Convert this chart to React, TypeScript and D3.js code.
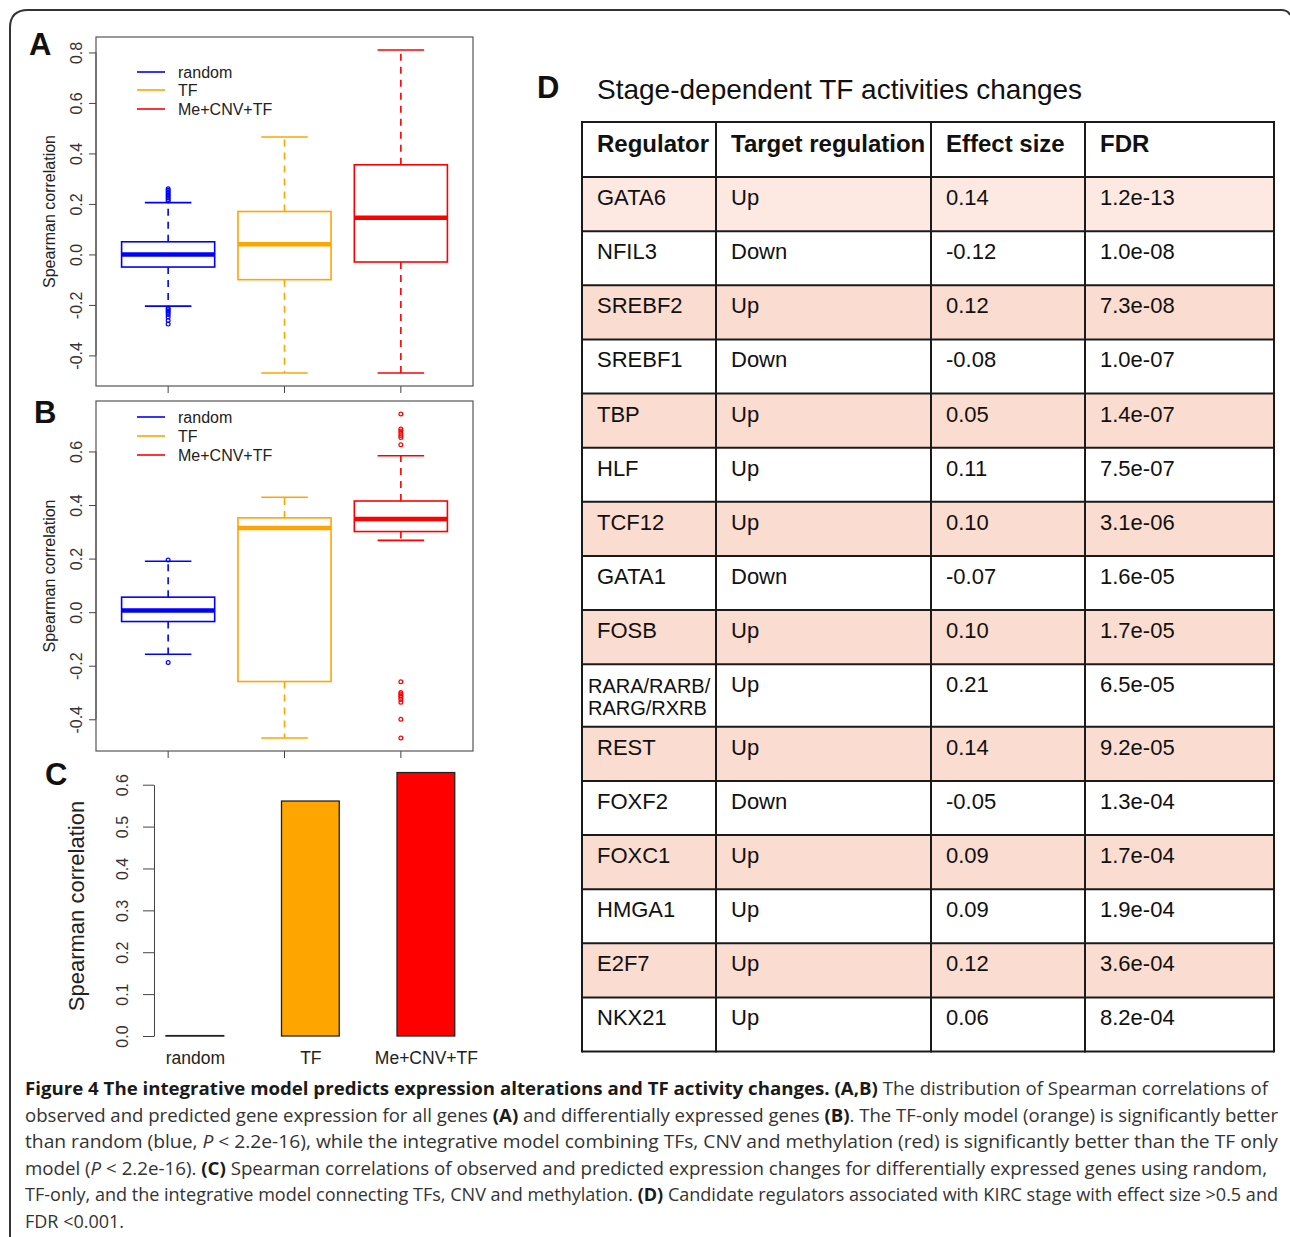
import React, { useEffect, useRef } from "react";
import * as d3 from "d3";

// groups shared by panels A, B and C
const groups = ["random", "TF", "Me+CNV+TF"];
const groupColors = ["#0000ff", "#ffa500", "#ff0000"];

// panel A: all genes (whisker low, Q1, median, Q3, whisker high)
const allLow = [-0.205, -0.47, -0.47];
const allQ1 = [-0.05, -0.1, -0.03];
const allMedian = [0.0, 0.04, 0.145];
const allQ3 = [0.05, 0.17, 0.355];
const allHigh = [0.205, 0.465, 0.81];
const allOutliers = [
  [0.212, 0.218, 0.224, 0.23, 0.236, 0.242, 0.248, 0.254, 0.26, -0.212, -0.218, -0.224, -0.23, -0.238, -0.248, -0.262, -0.276],
  [],
  [],
];

// panel B: differentially expressed genes
const degLow = [-0.157, -0.47, 0.268];
const degQ1 = [-0.035, -0.259, 0.301];
const degMedian = [0.006, 0.314, 0.348];
const degQ3 = [0.056, 0.352, 0.415];
const degHigh = [0.19, 0.429, 0.584];
const degOutliers = [
  [0.195, -0.188],
  [],
  [0.74, 0.684, 0.676, 0.668, 0.66, 0.652, 0.625, -0.26, -0.3, -0.306, -0.312, -0.318, -0.326, -0.336, -0.4, -0.47],
];

const yTicksA = [-0.4, -0.2, 0.0, 0.2, 0.4, 0.6, 0.8];
const yTicksB = [-0.4, -0.2, 0.0, 0.2, 0.4, 0.6];

// panel C: correlation of expression changes
const barValues = [0.001, 0.561, 0.629];
const yTicksC = [0.0, 0.1, 0.2, 0.3, 0.4, 0.5, 0.6];

// panel D table
const tableHeaders = ["Regulator", "Target regulation", "Effect size", "FDR"];
const regulators = ["GATA6", "NFIL3", "SREBF2", "SREBF1", "TBP", "HLF", "TCF12", "GATA1", "FOSB", "RARA/RARB/RARG/RXRB", "REST", "FOXF2", "FOXC1", "HMGA1", "E2F7", "NKX21"];
const regulations = ["Up", "Down", "Up", "Down", "Up", "Up", "Up", "Down", "Up", "Up", "Up", "Down", "Up", "Up", "Up", "Up"];
const effectSizes = ["0.14", "-0.12", "0.12", "-0.08", "0.05", "0.11", "0.10", "-0.07", "0.10", "0.21", "0.14", "-0.05", "0.09", "0.09", "0.12", "0.06"];
const fdrs = ["1.2e-13", "1.0e-08", "7.3e-08", "1.0e-07", "1.4e-07", "7.5e-07", "3.1e-06", "1.6e-05", "1.7e-05", "6.5e-05", "9.2e-05", "1.3e-04", "1.7e-04", "1.9e-04", "3.6e-04", "8.2e-04"];

// caption lines: [text, style] segments
const captionLines = [
  [["Figure 4 The integrative model predicts expression alterations and TF activity changes. (A,B)", "b"], [" The distribution of Spearman correlations of", ""]],
  [["observed and predicted gene expression for all genes ", ""], ["(A)", "b"], [" and differentially expressed genes ", ""], ["(B)", "b"], [". The TF-only model (orange) is significantly better", ""]],
  [["than random (blue, ", ""], ["P", "i"], [" < 2.2e-16), while the integrative model combining TFs, CNV and methylation (red) is significantly better than the TF only", ""]],
  [["model (", ""], ["P", "i"], [" < 2.2e-16). ", ""], ["(C)", "b"], [" Spearman correlations of observed and predicted expression changes for differentially expressed genes using random,", ""]],
  [["TF-only, and the integrative model connecting TFs, CNV and methylation. ", ""], ["(D)", "b"], [" Candidate regulators associated with KIRC stage with effect size >0.5 and", ""]],
  [["FDR <0.001.", ""]],
];
const captionWidths = [1243, 1253, 1253, 1242, 1253, 0];

const SANS = "'Liberation Sans', Arial, Helvetica, sans-serif";
const fmt = (d) => (+d).toFixed(1);

function drawBoxPanel(svg, top, bottom, low, q1, med, q3, high, outliers, ticks, legendY) {
  const left = 96, right = 473;
  const values = [...low, ...high, ...outliers.flat()];
  const [mn, mx] = d3.extent(values);
  const pad = (mx - mn) * 0.04;
  const y = d3.scaleLinear().domain([mn - pad, mx + pad]).range([bottom, top]);
  const x = d3.scaleBand().domain(groups).range([left, right]).paddingInner(0.2).paddingOuter(0.22);
  const bw = x.bandwidth();

  const g = svg.append("g");

  // y axis, R style
  const yAxis = g.append("g")
    .attr("transform", `translate(${left},0)`)
    .call(d3.axisLeft(y).tickValues(ticks).tickSize(7).tickSizeOuter(0).tickFormat(fmt));
  yAxis.select(".domain").remove();
  yAxis.append("line")
    .attr("y1", y(ticks[0])).attr("y2", y(ticks[ticks.length - 1]))
    .attr("stroke", "#444");
  yAxis.selectAll(".tick line").attr("stroke", "#444");
  yAxis.selectAll(".tick text")
    .attr("x", null).attr("dy", null)
    .attr("transform", "translate(-14,0) rotate(-90)")
    .attr("text-anchor", "middle")
    .attr("fill", "#333")
    .style("font-size", "16px")
    .style("font-family", SANS);

  // x axis ticks
  const xAxis = g.append("g")
    .attr("transform", `translate(0,${bottom})`)
    .call(d3.axisBottom(x).tickSize(7).tickSizeOuter(0).tickFormat(() => ""));
  xAxis.select(".domain").remove();
  xAxis.selectAll(".tick line").attr("stroke", "#444");

  g.append("text")
    .attr("transform", `translate(55,${(top + bottom) / 2}) rotate(-90)`)
    .attr("text-anchor", "middle")
    .style("font-size", "16px")
    .style("font-family", SANS)
    .attr("fill", "#222")
    .text("Spearman correlation");

  groups.forEach((grp, i) => {
    const cx = x(grp) + bw / 2;
    const c = groupColors[i];
    const bg = g.append("g").attr("stroke", c).attr("fill", "none");
    // whiskers
    bg.append("line").attr("x1", cx).attr("x2", cx).attr("y1", y(q3[i])).attr("y2", y(high[i]))
      .attr("stroke-width", 1.6).attr("stroke-dasharray", "7,6");
    bg.append("line").attr("x1", cx).attr("x2", cx).attr("y1", y(q1[i])).attr("y2", y(low[i]))
      .attr("stroke-width", 1.6).attr("stroke-dasharray", "7,6");
    [low[i], high[i]].forEach((v) => {
      bg.append("line").attr("x1", cx - bw / 4).attr("x2", cx + bw / 4).attr("y1", y(v)).attr("y2", y(v)).attr("stroke-width", 1.6);
    });
    bg.append("rect")
      .attr("x", x(grp)).attr("width", bw)
      .attr("y", y(q3[i])).attr("height", y(q1[i]) - y(q3[i]))
      .attr("fill", "#fff").attr("stroke-width", 1.6);
    bg.append("line").attr("x1", x(grp)).attr("x2", x(grp) + bw).attr("y1", y(med[i])).attr("y2", y(med[i])).attr("stroke-width", 4.5);
    bg.selectAll("circle").data(outliers[i]).enter().append("circle")
      .attr("cx", cx).attr("cy", (d) => y(d)).attr("r", 1.9).attr("stroke-width", 1.2);
  });

  // plot frame
  g.append("rect")
    .attr("x", left).attr("y", top).attr("width", right - left).attr("height", bottom - top)
    .attr("fill", "none").attr("stroke", "#555").attr("stroke-width", 1.2);

  // legend
  groups.forEach((grp, i) => {
    g.append("line").attr("x1", 137).attr("x2", 165).attr("y1", legendY[i]).attr("y2", legendY[i])
      .attr("stroke", groupColors[i]).attr("stroke-width", 1.6);
    g.append("text").attr("x", 178).attr("y", legendY[i] + 5.5)
      .style("font-size", "16px").style("font-family", SANS).attr("fill", "#222").text(grp);
  });
}

function drawBarPanel(svg) {
  const y = d3.scaleLinear().domain([0, 0.6]).range([1036, 784.7]);
  const x = d3.scaleBand().domain(groups).range([166, 454.75]).paddingInner(0.5).paddingOuter(0);
  const g = svg.append("g");

  const yAxis = g.append("g")
    .attr("transform", "translate(154,0)")
    .call(d3.axisLeft(y).tickValues(yTicksC).tickSize(11).tickSizeOuter(0).tickFormat(fmt));
  yAxis.select(".domain").attr("stroke", "#444");
  yAxis.selectAll(".tick line").attr("stroke", "#444");
  yAxis.selectAll(".tick text")
    .attr("x", null).attr("dy", null)
    .attr("transform", "translate(-26,0) rotate(-90)")
    .attr("text-anchor", "middle")
    .attr("fill", "#333")
    .style("font-size", "16px")
    .style("font-family", SANS);

  g.selectAll(".bar").data(barValues).enter().append("rect")
    .attr("x", (d, i) => x(groups[i]))
    .attr("width", x.bandwidth())
    .attr("y", (d) => y(d))
    .attr("height", (d) => Math.max(0.5, y(0) - y(d)))
    .attr("fill", (d, i) => groupColors[i])
    .attr("stroke", "#222")
    .attr("stroke-width", 1.3);

  g.selectAll(".xlab").data(groups).enter().append("text")
    .attr("x", (d) => x(d) + x.bandwidth() / 2 + 0.5)
    .attr("y", 1064)
    .attr("text-anchor", "middle")
    .style("font-size", "17.5px").style("font-family", SANS).attr("fill", "#222")
    .text((d) => d);

  g.append("text")
    .attr("transform", "translate(84,906) rotate(-90)")
    .attr("text-anchor", "middle")
    .style("font-size", "22px").style("font-family", SANS).attr("fill", "#222")
    .text("Spearman correlation");
}

function drawTable(svg) {
  const colX = [582, 716, 931, 1085, 1274];
  const top = 122, headH = 55, rowH = 54.13, wrapH = 62.6;
  const g = svg.append("g").style("font-family", SANS);

  g.append("text").attr("x", 537).attr("y", 98).style("font-size", "31px").style("font-weight", "bold").attr("fill", "#111").text("D");
  g.append("text").attr("x", 597).attr("y", 99).style("font-size", "28px").attr("fill", "#111").text("Stage-dependent TF activities changes");

  const rowTops = [];
  let yy = top + headH;
  regulators.forEach((r) => {
    rowTops.push(yy);
    yy += r.length > 10 ? wrapH : rowH;
  });
  const bottom = yy;

  regulators.forEach((r, i) => {
    const h = (i + 1 < rowTops.length ? rowTops[i + 1] : bottom) - rowTops[i];
    if (i % 2 === 0) {
      g.append("rect").attr("x", colX[0]).attr("y", rowTops[i]).attr("width", colX[4] - colX[0]).attr("height", h)
        .attr("fill", i === 0 ? "#fde9e1" : "#fbdcd0");
    }
    const cells = [r, regulations[i], effectSizes[i], fdrs[i]];
    cells.forEach((c, j) => {
      if (j === 0 && r.length > 10) {
        const cut = r.indexOf("/", r.indexOf("/") + 1) + 1;
        [r.slice(0, cut), r.slice(cut)].forEach((part, k) => {
          g.append("text").attr("x", colX[0] + 6).attr("y", rowTops[i] + 29 + k * 22)
            .style("font-size", "20px").attr("fill", "#111").text(part);
        });
      } else {
        g.append("text").attr("x", colX[j] + 15).attr("y", rowTops[i] + 28)
          .style("font-size", "22px").attr("fill", "#111").text(c);
      }
    });
  });

  tableHeaders.forEach((h, j) => {
    g.append("text").attr("x", colX[j] + 15).attr("y", top + 30)
      .style("font-size", "24px").style("font-weight", "bold").attr("fill", "#111").text(h);
  });

  // grid lines
  [top, top + headH, ...rowTops.slice(1), bottom].forEach((ly) => {
    g.append("line").attr("x1", colX[0]).attr("x2", colX[4]).attr("y1", ly).attr("y2", ly)
      .attr("stroke", "#1a1a1a").attr("stroke-width", 2);
  });
  colX.forEach((lx) => {
    g.append("line").attr("x1", lx).attr("x2", lx).attr("y1", top - 1).attr("y2", bottom + 1)
      .attr("stroke", "#1a1a1a").attr("stroke-width", 2);
  });
}

function drawCaption(svg) {
  const g = svg.append("g").style("font-family", "'Open Sans', 'Noto Sans', sans-serif").style("font-size", "18px");
  captionLines.forEach((line, i) => {
    const t = g.append("text").attr("x", 25).attr("y", 1095 + i * 26.6).attr("fill", "#333");
    if (captionWidths[i]) t.attr("textLength", captionWidths[i]).attr("lengthAdjust", "spacingAndGlyphs");
    line.forEach(([txt, st]) => {
      const sp = t.append("tspan").text(txt);
      if (st === "b") sp.style("font-weight", "bold").attr("fill", "#1a1a1a");
      if (st === "i") sp.style("font-style", "italic");
    });
  });
}

export default function App() {
  const svgRef = useRef(null);

  useEffect(() => {
    const svg = d3.select(svgRef.current);
    svg.selectAll("*").remove();

    svg.append("rect").attr("width", 1290).attr("height", 1237).attr("fill", "#fff");

    // outer frame with rounded corner
    svg.append("path")
      .attr("d", "M10,1237 V28 Q10,10 28,10 H1281 Q1288,10 1290,15")
      .attr("fill", "none").attr("stroke", "#333").attr("stroke-width", 2);

    drawBoxPanel(svg, 37, 386, allLow, allQ1, allMedian, allQ3, allHigh, allOutliers, yTicksA, [72, 90, 109]);
    drawBoxPanel(svg, 401, 751, degLow, degQ1, degMedian, degQ3, degHigh, degOutliers, yTicksB, [417, 436, 455]);
    drawBarPanel(svg);
    drawTable(svg);
    drawCaption(svg);

    // panel letters
    [["A", 29, 55], ["B", 34, 423], ["C", 45, 785]].forEach(([l, lx, ly]) => {
      svg.append("text").attr("x", lx).attr("y", ly)
        .style("font-family", SANS).style("font-size", "31px").style("font-weight", "bold").attr("fill", "#111").text(l);
    });
  }, []);

  return (
    <svg
      ref={svgRef}
      width={1290}
      height={1237}
      style={{ position: "absolute", left: 0, top: 0, display: "block" }}
    />
  );
}
